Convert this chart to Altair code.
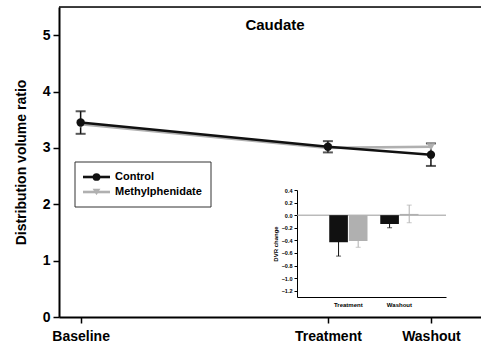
import altair as alt
import pandas as pd

FONT = "Liberation Sans"

groups = ["Control", "Methylphenidate"]
colors = ["#111111", "#b0b0b0"]
markers = ["circle", "triangle-down"]
chart_title = ["Caudate"]

# main panel
phases = ["Baseline", "Treatment", "Washout"]
phase_weeks = [0, 12, 17]
control_dvr = [3.45, 3.02, 2.88]
control_err = [0.20, 0.10, 0.20]
mph_dvr = [3.42, 3.00, 3.02]
main_ticks = [0, 1, 2, 3, 4, 5]

# inset panel
inset_phases = ["Treatment", "Washout"]
control_change = [-0.43, -0.14]
control_change_err = [0.22, 0.06]
mph_change = [-0.41, 0.02]
mph_change_err = [0.10, 0.14]
inset_ticks = [-1.2, -1.0, -0.8, -0.6, -0.4, -0.2, 0.0, 0.2, 0.4]

main_df = pd.DataFrame({
    "week": phase_weeks + phase_weeks,
    "group": [groups[1]] * 3 + [groups[0]] * 3,
    "dvr": mph_dvr + control_dvr,
})
err_df = pd.DataFrame({
    "week": phase_weeks,
    "lo": [v - e for v, e in zip(control_dvr, control_err)],
    "hi": [v + e for v, e in zip(control_dvr, control_err)],
})
frame_df = pd.DataFrame({"top": [5.5]})
title_df = pd.DataFrame({"title": chart_title})

label_expr = ""
for w, p in zip(phase_weeks[:-1], phases[:-1]):
    label_expr += f"datum.value == {w} ? '{p}' : "
label_expr += f"'{phases[-1]}'"

xscale = alt.Scale(domain=[-1.05, 19.43], nice=False, zero=False)
yscale = alt.Scale(domain=[0, 5.5], nice=False, zero=False)

x_main = alt.X("week:Q", scale=xscale, axis=alt.Axis(
    values=phase_weeks, labelExpr=label_expr, title=None, grid=False,
    domainColor="black", domainWidth=2, tickColor="black", tickWidth=1.5,
    tickSize=6, labelFontSize=14, labelFontWeight="bold", labelPadding=6))
y_main_axis = alt.Axis(
    values=main_ticks, format="d", title="Distribution volume ratio", grid=False,
    domainColor="black", domainWidth=2, tickColor="black", tickWidth=1.5,
    tickSize=6, labelFontSize=14, labelFontWeight="bold", labelPadding=3,
    titleFontSize=14, titleFontWeight="bold", titlePadding=14, labelOverlap=False)

color_scale = alt.Scale(domain=groups, range=colors)
shape_scale = alt.Scale(domain=groups, range=markers)

top_rule = alt.Chart(frame_df).mark_rule(color="black", strokeWidth=1.5).encode(
    y=alt.Y("top:Q", scale=yscale, axis=y_main_axis),
    x=alt.datum(-1.05), x2=alt.datum(19.43))

title_text = alt.Chart(title_df).mark_text(
    font=FONT, fontSize=15, fontWeight="bold", baseline="alphabetic", color="black"
).encode(text="title:N", x=alt.value(216), y=alt.value(23))

lines = alt.Chart(main_df).mark_line(strokeWidth=2.6).encode(
    x=x_main, y=alt.Y("dvr:Q", scale=yscale),
    color=alt.Color("group:N", scale=color_scale, legend=None))

err_rule = alt.Chart(err_df).mark_rule(color="#111111", strokeWidth=1.5).encode(
    x="week:Q", y="lo:Q", y2="hi:Q")
cap_lo = alt.Chart(err_df).mark_tick(orient="horizontal", color="#111111", size=10, thickness=2).encode(
    x="week:Q", y="lo:Q")
cap_hi = alt.Chart(err_df).mark_tick(orient="horizontal", color="#111111", size=10, thickness=2).encode(
    x="week:Q", y="hi:Q")

points = alt.Chart(main_df).mark_point(filled=True, size=70, opacity=1).encode(
    x="week:Q", y="dvr:Q",
    color=alt.Color("group:N", scale=color_scale, legend=None),
    shape=alt.Shape("group:N", scale=shape_scale, legend=None))

main = alt.layer(top_rule, title_text, lines, err_rule, cap_lo, cap_hi, points)

# legend (line + marker glyphs, boxed), rows placed by a point scale
leg_df = pd.DataFrame({"group": groups})
box_df = pd.DataFrame({"box": [1]})
leg_y = alt.Y("group:N", scale=alt.Scale(type="point", domain=groups, range=[170, 185], padding=0),
              axis=None)
leg_box = alt.Chart(box_df).mark_rect(fill="white", stroke="#333333", strokeWidth=1).encode(
    x=alt.value(16), x2=alt.value(152), y=alt.value(155), y2=alt.value(200))
leg_lines = alt.Chart(leg_df).mark_rule(strokeWidth=2.6).encode(
    x=alt.value(24), x2=alt.value(51), y=leg_y,
    color=alt.Color("group:N", scale=color_scale, legend=None))
leg_pts = alt.Chart(leg_df).mark_point(filled=True, size=60, opacity=1).encode(
    x=alt.value(37.5), y=leg_y,
    color=alt.Color("group:N", scale=color_scale, legend=None),
    shape=alt.Shape("group:N", scale=shape_scale, legend=None))
leg_text = alt.Chart(leg_df).mark_text(
    align="left", baseline="middle", font=FONT, fontSize=11, fontWeight="bold", color="black"
).encode(x=alt.value(56), y=leg_y, text="group:N")
legend_marks = alt.layer(leg_box, leg_lines, leg_pts, leg_text)

# inset
inset_df = pd.DataFrame({
    "phase": inset_phases + inset_phases,
    "group": [groups[0]] * 2 + [groups[1]] * 2,
    "change": control_change + mph_change,
    "err": control_change_err + mph_change_err,
})
inset_df["lo"] = inset_df["change"] - inset_df["err"]
inset_df["hi"] = inset_df["change"] + inset_df["err"]
zero_df = pd.DataFrame({"z": [0.0]})

ix = alt.X("phase:N", sort=inset_phases,
           scale=alt.Scale(domain=inset_phases, range=[238, 387], paddingInner=0.25,
                           paddingOuter=0.585, align=0.54),
           axis=alt.Axis(orient="bottom", offset=-20, title=None, ticks=False, labelAngle=0,
                         labelFontSize=6, labelFontWeight="bold", labelPadding=4,
                         domainColor="black", domainWidth=1, grid=False))
iscale_y = alt.Scale(domain=[-1.3, 0.4], range=[290, 183], nice=False, zero=False)
inset_y_axis = alt.Axis(
    orient="left", offset=-238, values=inset_ticks, format=".1f", tickSize=3, tickWidth=1,
    tickColor="black", labelFontSize=5.5, labelFontWeight="bold", labelPadding=2,
    labelOverlap=False, labelBound=False,
    domainColor="black", domainWidth=1, title="DVR change", titleFontSize=6,
    titleFontWeight="bold", titlePadding=3, grid=False)
ixo = alt.XOffset("group:N", scale=alt.Scale(domain=groups, paddingInner=0.05))
icolor = alt.Color("group:N", scale=color_scale, legend=None)

zero_line = alt.Chart(zero_df).mark_rule(color="#999999", strokeWidth=1).encode(
    y=alt.Y("z:Q", scale=iscale_y, axis=inset_y_axis), x=alt.value(238), x2=alt.value(387))
ierr = alt.Chart(inset_df).mark_rule(strokeWidth=1).encode(
    x=ix, xOffset=ixo, y=alt.Y("lo:Q", scale=iscale_y, axis=inset_y_axis), y2="hi:Q", color=icolor)
icap_lo = alt.Chart(inset_df).mark_tick(orient="horizontal", size=5, thickness=1).encode(
    x=ix, xOffset=ixo, y=alt.Y("lo:Q", scale=iscale_y, axis=inset_y_axis), color=icolor)
icap_hi = alt.Chart(inset_df).mark_tick(orient="horizontal", size=5, thickness=1).encode(
    x=ix, xOffset=ixo, y=alt.Y("hi:Q", scale=iscale_y, axis=inset_y_axis), color=icolor)
ibars = alt.Chart(inset_df).mark_bar().encode(
    x=ix, xOffset=ixo, y=alt.Y("change:Q", scale=iscale_y, axis=inset_y_axis),
    y2=alt.datum(0), color=icolor)

inset = alt.layer(zero_line, ierr, icap_lo, icap_hi, ibars)

chart = alt.layer(main, inset, legend_marks).resolve_scale(
    x="independent", y="independent"
).resolve_axis(x="independent", y="independent").properties(
    width=422, height=310, autosize="none",
    padding={"left": 59, "top": 7, "right": 0, "bottom": 28},
).configure_view(stroke=None).configure_axis(
    labelFont=FONT, titleFont=FONT, labelColor="black", titleColor="black"
).configure(background="white")

chart.save("out.html", embed_options={"renderer": "svg", "actions": False})
